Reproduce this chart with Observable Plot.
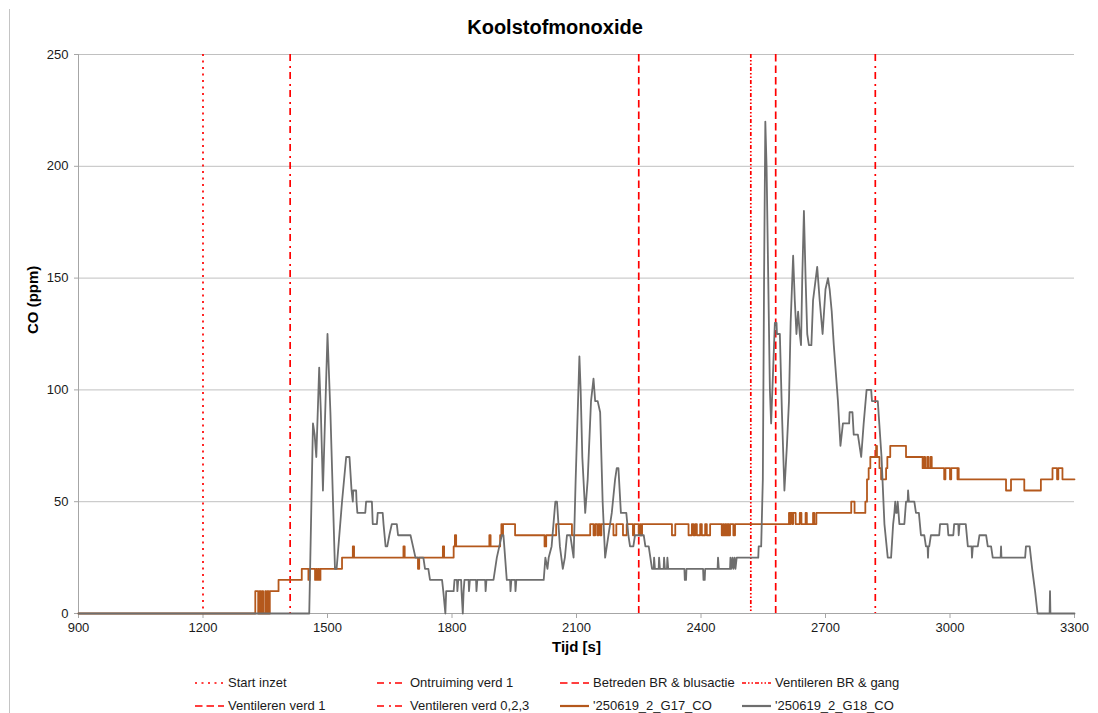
<!DOCTYPE html>
<html>
<head>
<meta charset="utf-8">
<script src="https://cdn.jsdelivr.net/npm/d3@7"></script>
<script src="https://cdn.jsdelivr.net/npm/@observablehq/plot@0.6"></script>
<style>
  html, body { margin: 0; padding: 0; background: #fff; }
  #wrap { position: relative; width: 1098px; height: 713px; overflow: hidden;
          font-family: "Liberation Sans", Arial, sans-serif; background: #fff; }
  #border { position: absolute; left: 9px; top: 9px; width: 1px; height: 704px; background: #c4c4c4; z-index: 2; }
  #title { position: absolute; left: 555px; top: 15px; transform: translateX(-50%);
           font-size: 20px; font-weight: bold; line-height: 24px; color: #000; white-space: nowrap; }
  #chart { position: absolute; left: 0; top: 40px; z-index: 1; }
  .lg { position: absolute; display: flex; align-items: center; font-size: 13px; color: #1a1a1a;
        white-space: nowrap; height: 16px; line-height: 16px; }
  .lg svg { margin-right: 4px; }
</style>
</head>
<body>
<div id="wrap">
  <div id="title">Koolstofmonoxide</div>
  <div id="chart"></div>
  <div id="legend"></div>
  <div id="border"></div>
</div>
<script>
// ---- data ----
const xTicks = [900, 1200, 1500, 1800, 2100, 2400, 2700, 3000, 3300];
const yTicks = [0, 50, 100, 150, 200, 250];

const eventNames = ["Start inzet", "Ontruiming verd 1", "Betreden BR & blusactie", "Ventileren BR & gang",
                    "Ventileren verd 1", "Ventileren verd 0,2,3"];
const eventTimes = [1200, 1410, 2250, 2520, 2580, 2820];
const eventDashes = ["2,4.5", "7,5,2,4", "7.5,4", "4,2,1.5,2,1.5,2", "7.5,4", "7,5,2,4"];

const seriesNames = ["'250619_2_G17_CO", "'250619_2_G18_CO"];
const seriesColors = ["#b4581c", "#6e6e6e"];

// G17: [time (s), CO (ppm)], value holds until next time
const g17 = [[900,0],[1326,10],[1333,0],[1336,10],[1339,0],[1342,10],[1345,0],[1350,10],[1352,0],[1355,10],[1358,0],[1361,10],
[1382,15],[1438,20],[1454,15],[1457,20],[1470,15],[1473,20],[1475,15],[1478,20],[1480,15],[1483,20],[1535,25],[1561,30],[1564,25],
[1683,30],[1686,25],[1718,20],[1721,25],[1778,30],[1781,25],[1804,30],[1807,35],[1810,30],[1890,35],[1893,30],[1916,35],[1919,40],
[1921,35],[1923,40],[1952,35],[2023,30],[2027,35],[2051,40],[2089,35],[2133,40],[2141,35],[2145,40],[2150,35],[2153,40],[2157,35],
[2160,40],[2189,35],[2196,40],[2212,35],[2221,40],[2236,35],[2239,40],[2250,35],[2253,40],[2256,35],[2258,40],[2330,35],[2338,40],
[2370,35],[2378,40],[2382,35],[2386,40],[2390,35],[2398,40],[2402,35],[2410,40],[2414,35],[2422,40],[2450,35],[2453,40],[2455,35],
[2458,40],[2461,35],[2464,40],[2467,35],[2470,40],[2478,35],[2482,40],[2612,45],[2614,40],[2616,45],[2620,40],[2622,45],[2628,40],
[2638,45],[2642,40],[2652,45],[2655,40],[2670,45],[2673,40],[2678,45],[2762,50],[2770,45],[2796,50],[2800,60],[2804,65],[2808,70],
[2822,75],[2824,70],[2830,65],[2834,60],[2846,65],[2849,70],[2856,75],[2894,70],[2934,65],[2937,70],[2940,65],[2945,70],[2948,65],
[2953,70],[2956,65],[2986,60],[2989,65],[3000,60],[3003,65],[3018,60],[3019,65],[3021,60],[3135,55],[3147,60],[3179,55],[3219,60],
[3247,65],[3258,60],[3261,65],[3271,60],[3300,60]];

// G18: [time (s), CO (ppm)]
const g18 = [[900,0],[1456,0],[1465,85],[1469,80],[1473,70],[1480,110],[1484,90],[1489,55],[1500,125],[1507,90],[1518,20],[1522,20],
[1535,50],[1545,70],[1553,70],[1558,55],[1561,50],[1562,55],[1569,55],[1570,50],[1572,45],[1591,45],[1593,50],[1607,50],[1609,40],
[1619,40],[1621,45],[1633,45],[1635,40],[1640,30],[1644,30],[1649,35],[1655,40],[1667,40],[1670,35],[1700,35],[1706,30],[1712,25],
[1731,25],[1735,20],[1743,20],[1747,15],[1776,15],[1779,10],[1784,0],[1786,10],[1804,10],[1806,15],[1812,15],[1813,10],[1815,15],
[1822,15],[1823,10],[1826,0],[1828,10],[1830,15],[1840,15],[1841,10],[1843,15],[1858,15],[1859,10],[1861,15],[1880,15],[1881,10],
[1883,15],[1900,15],[1908,25],[1914,30],[1920,35],[1924,35],[1928,25],[1932,15],[1940,15],[1941,10],[1943,15],[1952,15],[1953,10],
[1955,15],[2021,15],[2025,25],[2030,20],[2033,25],[2040,30],[2049,50],[2053,50],[2060,30],[2067,20],[2072,25],[2077,35],[2085,35],
[2093,25],[2098,60],[2107,115],[2110,100],[2114,70],[2121,45],[2127,60],[2135,95],[2141,105],[2145,95],[2151,95],[2157,90],[2163,50],
[2169,25],[2177,35],[2185,45],[2193,60],[2197,65],[2201,65],[2207,45],[2220,45],[2225,35],[2229,30],[2237,30],[2241,35],[2262,35],
[2266,30],[2274,30],[2282,20],[2286,20],[2287,25],[2289,20],[2298,20],[2299,25],[2301,20],[2310,20],[2311,25],[2313,20],[2318,20],
[2319,25],[2321,20],[2360,20],[2361,15],[2364,15],[2365,20],[2405,20],[2406,15],[2409,15],[2410,20],[2440,20],[2441,25],[2443,20],
[2470,20],[2471,25],[2473,20],[2476,25],[2478,20],[2481,25],[2483,20],[2486,25],[2538,25],[2539,30],[2545,30],[2549,60],[2552,150],
[2555,220],[2558,200],[2562,150],[2566,100],[2569,85],[2574,110],[2578,130],[2582,130],[2583,125],[2590,125],[2595,90],[2601,55],
[2607,75],[2612,95],[2616,130],[2622,160],[2626,140],[2630,125],[2634,135],[2638,125],[2641,120],[2644,150],[2648,180],[2652,150],
[2656,125],[2660,120],[2666,120],[2670,140],[2680,155],[2686,140],[2693,125],[2700,145],[2706,150],[2710,145],[2715,135],[2720,120],
[2730,95],[2736,75],[2742,85],[2757,85],[2758,90],[2765,90],[2768,80],[2778,80],[2786,70],[2792,85],[2799,100],[2810,100],[2812,95],
[2826,95],[2835,70],[2842,40],[2850,25],[2858,25],[2863,40],[2866,45],[2868,50],[2870,45],[2872,45],[2874,50],[2876,45],[2878,40],
[2890,40],[2894,50],[2898,50],[2899,55],[2901,50],[2914,50],[2918,45],[2925,45],[2930,35],[2938,35],[2942,30],[2946,30],[2947,25],
[2948,30],[2950,30],[2954,35],[2974,35],[2976,40],[2994,40],[2996,35],[3008,35],[3010,40],[3020,40],[3021,35],[3023,40],[3038,40],
[3043,30],[3052,30],[3053,25],[3055,30],[3067,30],[3071,35],[3087,35],[3091,30],[3099,30],[3103,25],[3122,25],[3123,30],[3124,25],
[3181,25],[3183,30],[3192,30],[3198,20],[3205,10],[3211,0],[3240,0],[3241,10],[3242,0],[3300,0]];

// ---- chart ----
const axisColor = "#a6a6a6";
const eventMarks = eventTimes.map((t, i) =>
  Plot.ruleX([t], {stroke: "#ff0000", strokeWidth: 1.7, strokeDasharray: eventDashes[i]}));

const chart = Plot.plot({
  width: 1098,
  height: 620,
  marginLeft: 78,
  marginRight: 24,
  marginTop: 14,
  marginBottom: 47,
  style: {fontFamily: "'Liberation Sans', Arial, sans-serif", fontSize: "13px", background: "#fff", color: "#222"},
  x: {domain: [900, 3300]},
  y: {domain: [0, 250]},
  marks: [
    Plot.gridY(yTicks, {stroke: "#c0c0c0", strokeOpacity: 1}),
    Plot.ruleX([900], {stroke: axisColor}),
    Plot.ruleY([0], {stroke: axisColor}),
    Plot.axisY(yTicks, {tickSize: 4, tickPadding: 6, stroke: axisColor, fill: "#1a1a1a", label: null, tickFormat: d => String(d)}),
    Plot.axisX(xTicks, {tickSize: 5, tickPadding: 4, stroke: axisColor, fill: "#1a1a1a", label: null, tickFormat: d => String(d)}),
    ...eventMarks,
    Plot.line(g17, {x: d => d[0], y: d => d[1], curve: "step-after", stroke: seriesColors[0], strokeWidth: 1.8}),
    Plot.line(g18, {x: d => d[0], y: d => d[1], stroke: seriesColors[1], strokeWidth: 1.8}),
    Plot.text(["CO (ppm)"], {text: d => d, frameAnchor: "left", rotate: -90, dx: -45, fontWeight: "bold", fontSize: 15, fill: "#000"}),
    Plot.text(["Tijd [s]"], {text: d => d, frameAnchor: "bottom", dy: 38, fontWeight: "bold", fontSize: 15, fill: "#000"})
  ]
});
document.getElementById("chart").appendChild(chart);

// ---- legend (below the svg) ----
const legendItems = [
  {name: eventNames[0], color: "#ff0000", dash: eventDashes[0], w: 1.7},
  {name: eventNames[1], color: "#ff0000", dash: eventDashes[1], w: 1.7},
  {name: eventNames[2], color: "#ff0000", dash: eventDashes[2], w: 1.7},
  {name: eventNames[3], color: "#ff0000", dash: eventDashes[3], w: 1.7},
  {name: eventNames[4], color: "#ff0000", dash: eventDashes[4], w: 1.7},
  {name: eventNames[5], color: "#ff0000", dash: eventDashes[5], w: 1.7},
  {name: seriesNames[0], color: seriesColors[0], dash: null, w: 2.2},
  {name: seriesNames[1], color: seriesColors[1], dash: null, w: 2.2}
];
const colX = [195, 377, 560, 742];
const rowY = [683, 706];
const legend = document.getElementById("legend");
legendItems.forEach((it, i) => {
  const div = document.createElement("div");
  div.className = "lg";
  div.style.left = colX[i % 4] + "px";
  div.style.top = (rowY[Math.floor(i / 4)] - 8) + "px";
  div.innerHTML = `<svg width="29" height="10"><line x1="0" x2="29" y1="5" y2="5" stroke="${it.color}" stroke-width="${it.w}" ${it.dash ? `stroke-dasharray="${it.dash}"` : ""}/></svg><span>${it.name.replace(/&/g, "&amp;")}</span>`;
  legend.appendChild(div);
});
</script>
</body>
</html>
